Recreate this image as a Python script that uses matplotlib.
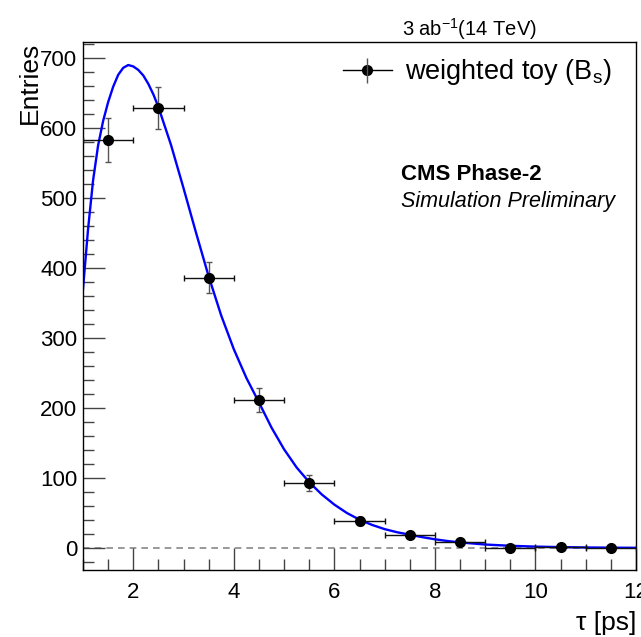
import numpy as np
import matplotlib
matplotlib.use("Agg")
from matplotlib import pyplot as plt
from matplotlib.ticker import MultipleLocator
from matplotlib.lines import Line2D

plt.rcParams['font.family'] = ['Liberation Sans', 'DejaVu Sans']
plt.rcParams['mathtext.fontset'] = 'custom'
plt.rcParams['mathtext.rm'] = 'Liberation Sans'
plt.rcParams['mathtext.it'] = 'Liberation Sans:italic'

# toy data (bin centres, contents, errors)
tau = [1.5, 2.5, 3.5, 4.5, 5.5, 6.5, 7.5, 8.5, 9.5, 10.5, 11.5]
entries = [583, 628, 386, 211, 93, 39, 19, 9, 0, 1, 0]
err_y = [31, 30, 22, 17, 11, 6, 4, 3, 0, 1, 0]
err_x = [0.5] * len(tau)

# fitted curve
fit_t = [1.0, 1.1, 1.2, 1.3, 1.4, 1.5, 1.6, 1.7, 1.8, 1.9, 2.0, 2.1, 2.2, 2.3, 2.4,
         2.5, 2.75, 3.0, 3.25, 3.5, 3.75, 4.0, 4.25, 4.5, 4.75, 5.0, 5.25, 5.5,
         5.75, 6.0, 6.25, 6.5, 6.75, 7.0, 7.25, 7.5, 7.75, 8.0, 8.25, 8.5, 9.0,
         9.5, 10.0, 10.5, 11.0, 11.5, 12.0]
fit_y = [370, 455, 525, 575, 610, 637, 659, 676, 686, 690, 688, 683, 675, 663, 648,
         630, 576, 514, 450, 388, 332, 284, 243, 208, 172, 141, 115, 94,
         76.5, 62, 50, 40.5, 33, 27, 22.5, 19, 15.5, 12.5, 10, 8, 5,
         3.2, 2, 1.3, 0.8, 0.5, 0.3]

fig = plt.figure(figsize=(6.41, 6.37), dpi=100)
ax = fig.add_axes([83/641, 67/637, 553/641, 528/637])

ax.axhline(0, color='#888888', lw=1.2, ls=(0, (4, 3)), zorder=1)
ax.plot(fit_t, fit_y, color='#0000ff', lw=1.7, zorder=2)
ax.errorbar(tau, entries, yerr=err_y, fmt='none', ecolor='#555555',
            elinewidth=1.0, capsize=2.5, capthick=1.0, zorder=3)
ax.errorbar(tau, entries, xerr=err_x, fmt='o', color='k', ecolor='#111111',
            elinewidth=1.0, capsize=2.5, capthick=1.0, markersize=7, zorder=4)

ax.set_xlim(1, 12)
ax.set_ylim(-31.4, 722.9)
ax.xaxis.set_major_locator(MultipleLocator(2))
ax.xaxis.set_minor_locator(MultipleLocator(0.5))
ax.yaxis.set_major_locator(MultipleLocator(100))
ax.yaxis.set_minor_locator(MultipleLocator(20))
ax.tick_params(which='both', direction='in', top=False, right=False, labelsize=16, width=1.0, color='#444444')
ax.tick_params(which='major', length=16)
ax.tick_params(which='minor', length=8)
ax.tick_params(axis='x', pad=9)
ax.tick_params(axis='y', pad=4)
for s in ax.spines.values():
    s.set_linewidth(1.0)

fig.text(30/641, 1 - 42/637, 'Entries', rotation=90, ha='center', va='top', fontsize=19)
fig.text(636/641, 7/637, 'τ [ps]', ha='right', va='baseline', fontsize=19)
fig.text(537/641, 1 - 36/637, r'3 ab$^{-1}$(14 TeV)', ha='right', va='baseline', fontsize=14.5)

handle = (Line2D([], [], color='k', lw=1.0, marker='o', markersize=7),
          Line2D([], [], color='#555555', lw=0, marker='|', markersize=18, markeredgewidth=1.0))
fig.legend([handle], [r'weighted toy (B$_{\mathrm{s}}$)'], loc='center left',
           bbox_to_anchor=(343/641, 1 - 72/637), bbox_transform=fig.transFigure,
           frameon=False, fontsize=19.5, handlelength=1.8, handletextpad=0.5,
           borderpad=0, borderaxespad=0)

fig.text(401/641, 1 - 180/637, 'CMS Phase-2', fontsize=16, fontweight='bold')
fig.text(401/641, 1 - 207/637, 'Simulation Preliminary', fontsize=15.5, style='italic')

fig.savefig('out.png', dpi=100)
